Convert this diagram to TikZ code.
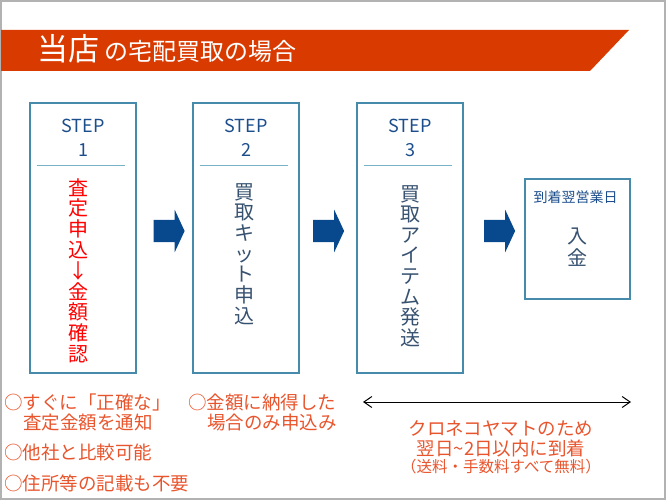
\documentclass[tikz,border=0pt]{standalone}
\usepackage{fontspec}
\setmainfont{Noto Sans CJK JP}
\usetikzlibrary{shapes.arrows, arrows.meta, calc}

\definecolor{bannerred}{RGB}{217,58,0}
\definecolor{stepblue}{RGB}{28,78,140}
\definecolor{boxline}{RGB}{70,138,172}
\definecolor{ruleline}{RGB}{120,178,200}
\definecolor{arrowblue}{RGB}{8,72,140}
\definecolor{bodytext}{RGB}{55,82,112}
\definecolor{noteorange}{RGB}{232,85,45}

\newcommand{\tightcol}{\lineskiplimit=-100pt\relax}

\tikzstyle{stepbox} = [rectangle, draw=boxline, line width=1.5pt, minimum width=106pt, minimum height=270pt, inner sep=0pt]
\tikzstyle{paybox} = [rectangle, draw=boxline, line width=1.5pt, minimum width=105pt, minimum height=120pt, inner sep=0pt]
\tikzstyle{steplabel} = [text=stepblue, font=\fontsize{18}{21}\selectfont, anchor=base, inner sep=0pt]
\tikzstyle{column} = [align=center, inner sep=0pt, anchor=north, text=bodytext]
\tikzstyle{note} = [text=noteorange, font=\fontsize{18.5}{22}\selectfont, anchor=west, inner sep=0pt]
\tikzstyle{shipnote} = [text=noteorange, font=\fontsize{18.5}{22}\selectfont, inner sep=0pt]
\tikzstyle{blockarrow} = [single arrow, fill=arrowblue, minimum height=31pt, inner xsep=0pt, inner ysep=11pt, single arrow head extend=10pt, single arrow tip angle=130]
\tikzstyle{rulesep} = [draw=ruleline, line width=1.5pt]
\tikzstyle{span} = [line width=1pt, {Straight Barb[length=8pt, width=11pt]}-{Straight Barb[length=8pt, width=11pt]}]

\begin{document}
\begin{tikzpicture}[x=1pt, y=-1pt]

\useasboundingbox (0,0) rectangle (666,500);
\draw [gray!60, line width=2pt] (1,1) rectangle (664.5,498.5);

% title banner
\fill [bannerred] (1,30) -- (629,30) -- (590,71) -- (1,71) -- cycle;
\node (title) [anchor=base west, text=white, font=\fontsize{31}{31}\selectfont, inner sep=0pt] at (37,61) {当店};
\node (subtitle) [anchor=base west, text=white, font=\fontsize{24}{24}\selectfont, inner sep=0pt, xshift=5pt] at (title.base east) {の宅配買取の場合};

% step boxes
\foreach \n/\x in {1/83, 2/246, 3/410} {
  \node (s\n) [stepbox] at (\x,238) {};
  \node (step\n) [steplabel] at ($(s\n.north)+(0,30)$) {STEP};
  \node (num\n) [steplabel] at ($(s\n.north)+(0,54)$) {\n};
  \draw [rulesep] ($(s\n.north west)+(8,63)$) -- ($(s\n.north east)+(-12,63)$);
}

\node (t1) [column, text=red, font=\fontsize{20}{20.8}\selectfont\tightcol] at (78,178) {査\\定\\申\\込\\↓\\金\\額\\確\\認};
\node (t2) [column, font=\fontsize{20}{20.7}\selectfont\tightcol] at (244,183) {買\\取\\キ\\ッ\\ト\\申\\込};
\node (t3) [column, font=\fontsize{20}{20.6}\selectfont\tightcol] at (410,185) {買\\取\\ア\\イ\\テ\\ム\\発\\送};

% payment box
\node (pay) [paybox] at (577.5,239) {};
\node (paydate) [text=stepblue, font=\fontsize{14}{14}\selectfont, inner sep=0pt] at (575.5,197.5) {到着翌営業日};
\node (paytext) [column, font=\fontsize{20}{21.5}\selectfont\tightcol] at (577,228) {入\\金};

% arrows between steps
\node (go1) [blockarrow] at (166.5,231) {};
\node (go2) [blockarrow] at (326,231) {};
\node (go3) [blockarrow] at (497,231) {};

% notes
\node (n1) [note] at (4,402) {○すぐに「正確な」};
\node (n2) [note] at (23,423) {査定金額を通知};
\node (n3) [note] at (4,452) {○他社と比較可能};
\node (n4) [note] at (4,483) {○住所等の記載も不要};
\node (n5) [note] at (188,402) {○金額に納得した};
\node (n6) [note] at (207,423) {場合のみ申込み};

\coordinate (shipl) at (363,402);
\coordinate (shipr) at (631,402);
\draw [span] (shipl) -- (shipr);
\node (ship1) [shipnote] at (501,428) {クロネコヤマトのため};
\node (ship2) [shipnote] at (501,448) {翌日\textasciitilde 2日以内に到着};
\node (ship3) [shipnote, font=\fontsize{15.5}{18}\selectfont] at (501,467) {（送料・手数料すべて無料）};

\end{tikzpicture}
\end{document}
